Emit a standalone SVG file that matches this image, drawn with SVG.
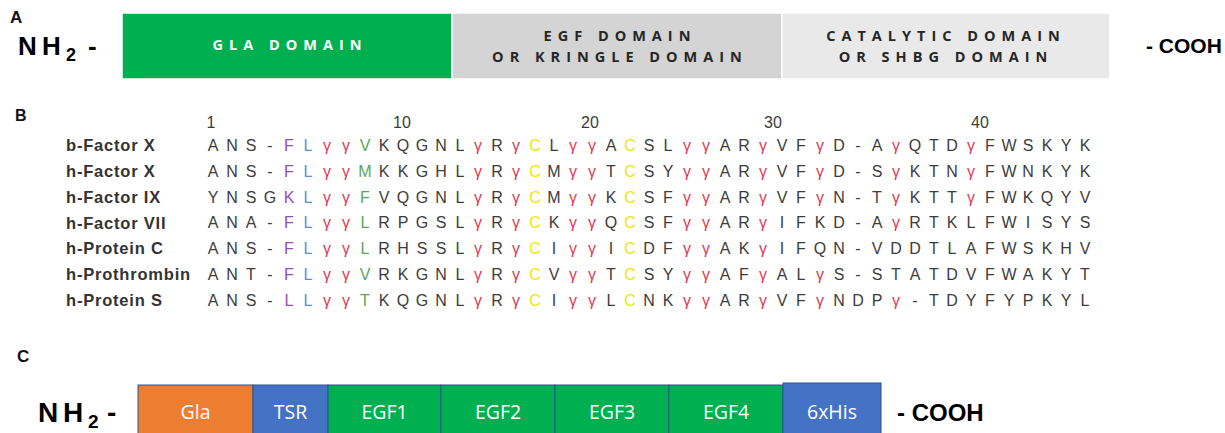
<svg xmlns="http://www.w3.org/2000/svg" width="1225" height="433" viewBox="0 0 1225 433">
<style>
.pl{font-family:"Liberation Sans",Arial,sans-serif;font-weight:bold;fill:#111}
.term{font-family:"Liberation Sans",Arial,sans-serif;font-weight:bold;fill:#000}
.dom{font-family:"Open Sans","Liberation Sans",sans-serif;font-weight:bold;font-size:14.5px;letter-spacing:6px;text-anchor:middle;fill:#262626}
.lbl{font-family:"Liberation Sans",Arial,sans-serif;font-weight:bold;font-size:16.5px;fill:#333;letter-spacing:0.8px}
.seq{font-family:"Liberation Sans",Arial,sans-serif;font-size:16px;fill:#3c3c3c;text-anchor:middle}
.num{font-family:"Liberation Sans",Arial,sans-serif;font-size:16px;fill:#3c3c3c;text-anchor:middle}
.p{fill:#9150b8}.b{fill:#5a8fd8}.r{fill:#e23a58}.g{fill:#5aa65a}.y{fill:#f3e500}
.bx{stroke:#2f528f;stroke-width:1}
.btxt{font-family:"Open Sans","Liberation Sans",sans-serif;font-size:19.5px;fill:#fff;text-anchor:middle}
.ab{stroke:#fff;stroke-width:1.5}
</style>

<!-- Panel A -->
<g id="panelA">
  <text class="pl" x="10" y="23" font-size="17">A</text>
  <text id="A-nterm" class="term" y="55" font-size="26"><tspan x="18">N</tspan><tspan x="42">H</tspan><tspan x="66" y="61" font-size="18">2</tspan><tspan x="88" y="55">-</tspan></text>
  <g id="gla-domain">
    <rect class="ab" x="122" y="13" width="330" height="66" fill="#00b050"/>
    <text class="dom" x="290" y="50" style="fill:#fff">GLA DOMAIN</text>
  </g>
  <g id="egf-domain">
    <rect class="ab" x="452" y="13" width="330" height="66" fill="#d4d4d4"/>
    <text class="dom" x="620" y="41">EGF DOMAIN</text>
    <text class="dom" x="620" y="62">OR KRINGLE DOMAIN</text>
  </g>
  <g id="catalytic-domain">
    <rect class="ab" x="782" y="13" width="328" height="66" fill="#e9e9e9"/>
    <text class="dom" x="946" y="41">CATALYTIC DOMAIN</text>
    <text class="dom" x="946" y="62">OR SHBG DOMAIN</text>
  </g>
  <text id="A-cterm" class="term" x="1146" y="53" font-size="21">- COOH</text>
</g>

<!-- Panel B -->
<g id="panelB">
  <text class="pl" x="15" y="121" font-size="16">B</text>
  <g id="numbering">
    <text class="num" x="211" y="128">1</text>
    <text class="num" x="402" y="128">10</text>
    <text class="num" x="590" y="128">20</text>
    <text class="num" x="773" y="128">30</text>
    <text class="num" x="980" y="128">40</text>
  </g>
  <g id="labels">
    <text class="lbl" x="66" y="151">b-Factor X</text>
    <text class="lbl" x="66" y="177">h-Factor X</text>
    <text class="lbl" x="66" y="203">h-Factor IX</text>
    <text class="lbl" x="66" y="228.5">h-Factor VII</text>
    <text class="lbl" x="66" y="254">h-Protein C</text>
    <text class="lbl" x="66" y="280">h-Prothrombin</text>
    <text class="lbl" x="66" y="306">h-Protein S</text>
  </g>
  <g id="sequences">
    <text id="seq-bFX" class="seq" y="151" x="213 232 251 270 289 308 327 346 365 384 403 422 441 460 478 497 516 535 554 573 592 611 630 649 668 687 706 725 744 763 782 801 820 839 858 877 896 915 934 952 971 990 1009 1028 1047 1066 1085">ANS-<tspan class="p">F</tspan><tspan class="b">L</tspan><tspan class="r">γγ</tspan><tspan class="g">V</tspan>KQGNL<tspan class="r">γ</tspan>R<tspan class="r">γ</tspan><tspan class="y">C</tspan>L<tspan class="r">γγ</tspan>A<tspan class="y">C</tspan>SL<tspan class="r">γγ</tspan>AR<tspan class="r">γ</tspan>VF<tspan class="r">γ</tspan>D-A<tspan class="r">γ</tspan>QTD<tspan class="r">γ</tspan>FWSKYK</text>
    <text id="seq-hFX" class="seq" y="176.8" x="213 232 251 270 289 308 327 346 365 384 403 422 441 460 478 497 516 535 554 573 592 611 630 649 668 687 706 725 744 763 782 801 820 839 858 877 896 915 934 952 971 990 1009 1028 1047 1066 1085">ANS-<tspan class="p">F</tspan><tspan class="b">L</tspan><tspan class="r">γγ</tspan><tspan class="g">M</tspan>KKGHL<tspan class="r">γ</tspan>R<tspan class="r">γ</tspan><tspan class="y">C</tspan>M<tspan class="r">γγ</tspan>T<tspan class="y">C</tspan>SY<tspan class="r">γγ</tspan>AR<tspan class="r">γ</tspan>VF<tspan class="r">γ</tspan>D-S<tspan class="r">γ</tspan>KTN<tspan class="r">γ</tspan>FWNKYK</text>
    <text id="seq-hFIX" class="seq" y="202.6" x="213 232 251 270 289 308 327 346 365 384 403 422 441 460 478 497 516 535 554 573 592 611 630 649 668 687 706 725 744 763 782 801 820 839 858 877 896 915 934 952 971 990 1009 1028 1047 1066 1085">YNSG<tspan class="p">K</tspan><tspan class="b">L</tspan><tspan class="r">γγ</tspan><tspan class="g">F</tspan>VQGNL<tspan class="r">γ</tspan>R<tspan class="r">γ</tspan><tspan class="y">C</tspan>M<tspan class="r">γγ</tspan>K<tspan class="y">C</tspan>SF<tspan class="r">γγ</tspan>AR<tspan class="r">γ</tspan>VF<tspan class="r">γ</tspan>N-T<tspan class="r">γ</tspan>KTT<tspan class="r">γ</tspan>FWKQYV</text>
    <text id="seq-hFVII" class="seq" y="228.4" x="213 232 251 270 289 308 327 346 365 384 403 422 441 460 478 497 516 535 554 573 592 611 630 649 668 687 706 725 744 763 782 801 820 839 858 877 896 915 934 952 971 990 1009 1028 1047 1066 1085">ANA-<tspan class="p">F</tspan><tspan class="b">L</tspan><tspan class="r">γγ</tspan><tspan class="g">L</tspan>RPGSL<tspan class="r">γ</tspan>R<tspan class="r">γ</tspan><tspan class="y">C</tspan>K<tspan class="r">γγ</tspan>Q<tspan class="y">C</tspan>SF<tspan class="r">γγ</tspan>AR<tspan class="r">γ</tspan>IFKD-A<tspan class="r">γ</tspan>RTKLFWISYS</text>
    <text id="seq-hPC" class="seq" y="254.2" x="213 232 251 270 289 308 327 346 365 384 403 422 441 460 478 497 516 535 554 573 592 611 630 649 668 687 706 725 744 763 782 801 820 839 858 877 896 915 934 952 971 990 1009 1028 1047 1066 1085">ANS-<tspan class="p">F</tspan><tspan class="b">L</tspan><tspan class="r">γγ</tspan><tspan class="g">L</tspan>RHSSL<tspan class="r">γ</tspan>R<tspan class="r">γ</tspan><tspan class="y">C</tspan>I<tspan class="r">γγ</tspan>I<tspan class="y">C</tspan>DF<tspan class="r">γγ</tspan>AK<tspan class="r">γ</tspan>IFQN-VDDTLAFWSKHV</text>
    <text id="seq-hPT" class="seq" y="280" x="213 232 251 270 289 308 327 346 365 384 403 422 441 460 478 497 516 535 554 573 592 611 630 649 668 687 706 725 744 763 782 801 820 839 858 877 896 915 934 952 971 990 1009 1028 1047 1066 1085">ANT-<tspan class="p">F</tspan><tspan class="b">L</tspan><tspan class="r">γγ</tspan><tspan class="g">V</tspan>RKGNL<tspan class="r">γ</tspan>R<tspan class="r">γ</tspan><tspan class="y">C</tspan>V<tspan class="r">γγ</tspan>T<tspan class="y">C</tspan>SY<tspan class="r">γγ</tspan>AF<tspan class="r">γ</tspan>AL<tspan class="r">γ</tspan>S-STATDVFWAKYT</text>
    <text id="seq-hPS" class="seq" y="305.8" x="213 232 251 270 289 308 327 346 365 384 403 422 441 460 478 497 516 535 554 573 592 611 630 649 668 687 706 725 744 763 782 801 820 839 858 877 896 915 934 952 971 990 1009 1028 1047 1066 1085">ANS-<tspan class="p">L</tspan><tspan class="b">L</tspan><tspan class="r">γγ</tspan><tspan class="g">T</tspan>KQGNL<tspan class="r">γ</tspan>R<tspan class="r">γ</tspan><tspan class="y">C</tspan>I<tspan class="r">γγ</tspan>L<tspan class="y">C</tspan>NK<tspan class="r">γγ</tspan>AR<tspan class="r">γ</tspan>VF<tspan class="r">γ</tspan>NDP<tspan class="r">γ</tspan>-TDYFYPKYL</text>
  </g>
</g>

<!-- Panel C -->
<g id="panelC">
  <text class="pl" x="17" y="362" font-size="17">C</text>
  <text id="C-nterm" class="term" y="422" font-size="28"><tspan x="38">N</tspan><tspan x="63">H</tspan><tspan x="88" y="428" font-size="19">2</tspan><tspan x="107" y="422">-</tspan></text>
  <g id="gla"><rect class="bx" x="138" y="385" width="115" height="50" fill="#ed7d31"/><text class="btxt" x="195.5" y="419">Gla</text></g>
  <g id="tsr"><rect class="bx" x="253" y="385" width="75" height="50" fill="#4472c4"/><text class="btxt" x="290.5" y="419">TSR</text></g>
  <g id="egf1"><rect class="bx" x="328" y="385" width="113" height="50" fill="#00b050"/><text class="btxt" x="384.5" y="419">EGF1</text></g>
  <g id="egf2"><rect class="bx" x="441" y="385" width="114" height="50" fill="#00b050"/><text class="btxt" x="498" y="419">EGF2</text></g>
  <g id="egf3"><rect class="bx" x="555" y="385" width="114" height="50" fill="#00b050"/><text class="btxt" x="612" y="419">EGF3</text></g>
  <g id="egf4"><rect class="bx" x="669" y="385" width="114" height="50" fill="#00b050"/><text class="btxt" x="726" y="419">EGF4</text></g>
  <g id="his"><rect class="bx" x="783" y="383" width="98" height="52" fill="#4472c4"/><text class="btxt" x="832" y="419">6xHis</text></g>
  <text id="C-cterm" class="term" x="897" y="421" font-size="24">- COOH</text>
</g>
</svg>
